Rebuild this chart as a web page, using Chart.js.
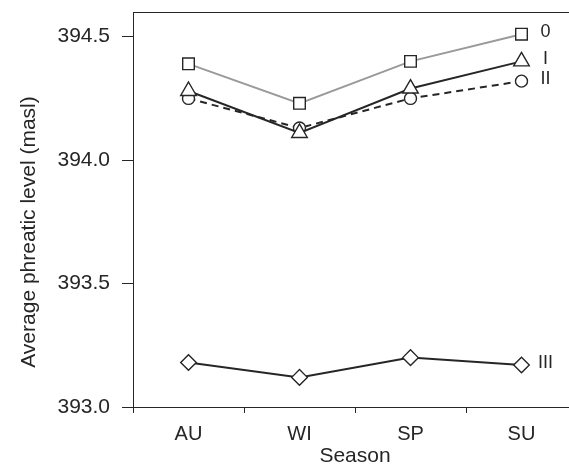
<!DOCTYPE html>
<html>
<head>
<meta charset="utf-8">
<script src="https://cdn.jsdelivr.net/npm/chart.js@4/dist/chart.umd.min.js"></script>
<style>
  html, body { margin: 0; padding: 0; background: #fff; overflow: hidden; }
  #wrap { width: 577px; height: 466px; }
</style>
</head>
<body>
<div id="wrap"><canvas id="chart" width="577" height="466"></canvas></div>
<script>
// season means of the phreatic level, one list per treatment
const seasons = ['AU', 'WI', 'SP', 'SU'];
const seriesNames = ['0', 'I', 'II', 'III'];
const level0 = [394.39, 394.23, 394.40, 394.51];
const levelI = [394.28, 394.11, 394.29, 394.40];
const levelII = [394.25, 394.13, 394.25, 394.32];
const levelIII = [393.18, 393.12, 393.20, 393.17];
const yTicks = [393.0, 393.5, 394.0, 394.5];

const ink = '#262626';
const fontFamily = '"Liberation Sans", Arial, Helvetica, sans-serif';

function line(label, data, color, style, radius, dash) {
    return {
        label: label,
        data: data,
        borderColor: color,
        borderWidth: 2,
        borderDash: dash || [],
        pointStyle: style,
        pointRadius: radius,
        pointHoverRadius: radius,
        pointBackgroundColor: '#fff',
        pointBorderColor: ink,
        pointBorderWidth: 1.4,
        tension: 0,
        fill: false,
    };
}

// top frame line and the series names next to the last points
const extras = {
    id: 'extras',
    afterDraw(chart) {
        const ctx = chart.ctx;
        const area = chart.chartArea;
        ctx.save();
        ctx.strokeStyle = ink;
        ctx.lineWidth = 1;
        ctx.beginPath();
        ctx.moveTo(area.left, area.top + 0.5);
        ctx.lineTo(area.right, area.top + 0.5);
        ctx.stroke();

        ctx.fillStyle = ink;
        ctx.font = '18px ' + fontFamily;
        ctx.textAlign = 'center';
        ctx.textBaseline = 'middle';
        chart.data.datasets.forEach((ds, i) => {
            const pts = chart.getDatasetMeta(i).data;
            const p = pts[pts.length - 1];
            ctx.fillText(seriesNames[i], p.x + 24, p.y - 2);
        });

        // y axis title
        ctx.font = '21px ' + fontFamily;
        ctx.textBaseline = 'alphabetic';
        ctx.translate(35, 232);
        ctx.rotate(-Math.PI / 2);
        ctx.fillText('Average phreatic level (masl)', 0, 0);
        ctx.restore();
    }
};

new Chart(document.getElementById('chart'), {
    type: 'line',
    data: {
        labels: seasons,
        datasets: [
            line(seriesNames[0], level0, '#9a9a9a', 'rect', 8.2),
            line(seriesNames[1], levelI, ink, 'triangle', 9),
            line(seriesNames[2], levelII, ink, 'circle', 6, [7, 5]),
            line(seriesNames[3], levelIII, ink, 'rectRot', 7.8),
        ],
    },
    options: {
        responsive: false,
        animation: false,
        events: [],
        layout: {
            autoPadding: false,
            padding: { top: 12, left: 0, right: 0, bottom: 0 },
        },
        plugins: {
            legend: { display: false },
            tooltip: { enabled: false },
        },
        scales: {
            x: {
                offset: true,
                afterFit: (scale) => {
                    scale.height = 59;
                    scale.paddingLeft = 0;
                    scale.paddingRight = 0;
                },
                grid: {
                    offset: true,
                    drawOnChartArea: false,
                    tickLength: 6,
                    color: ink,
                },
                border: { display: true, color: ink, width: 1 },
                ticks: {
                    color: ink,
                    padding: 9,
                    font: { size: 20, family: fontFamily },
                },
                title: {
                    display: true,
                    text: 'Season',
                    color: ink,
                    padding: { top: 0, bottom: -3 },
                    font: { size: 21, family: fontFamily },
                },
            },
            y: {
                min: 393.0,
                max: 394.6,
                afterFit: (scale) => {
                    scale.width = 133;
                    scale.paddingTop = 0;
                    scale.paddingBottom = 0;
                },
                afterBuildTicks: (scale) => {
                    scale.ticks = yTicks.map(v => ({ value: v }));
                },
                grid: {
                    drawOnChartArea: false,
                    tickLength: 11,
                    color: ink,
                },
                border: { display: true, color: ink, width: 1 },
                ticks: {
                    color: ink,
                    padding: 12,
                    font: { size: 21, family: fontFamily },
                    callback: (v) => Number(v).toFixed(1),
                },
            },
        },
    },
    plugins: [extras],
});
</script>
</body>
</html>
